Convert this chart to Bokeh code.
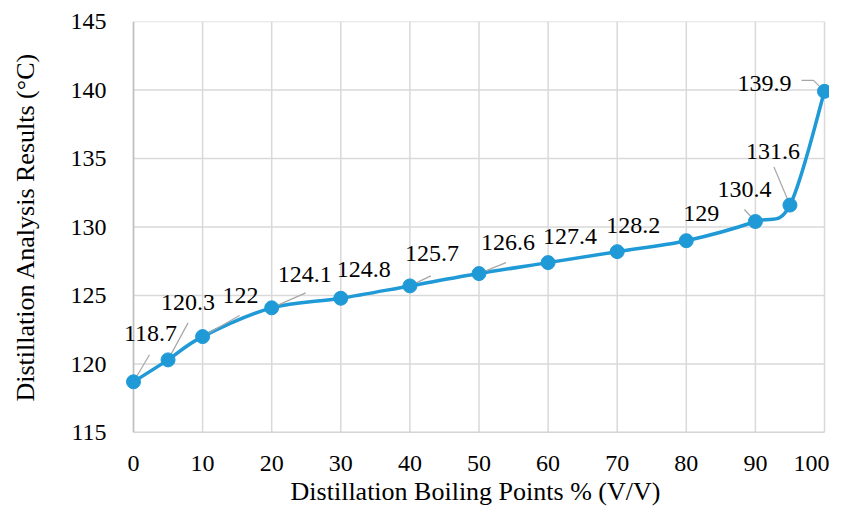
from bokeh.plotting import figure
from bokeh.models import Range1d, ColumnDataSource
from bokeh.embed import file_html
from bokeh.resources import INLINE
from bokeh.core.properties import value

# ---- data ----
boiling_points = [0, 5, 10, 20, 30, 40, 50, 60, 70, 80, 90, 95, 100]
temperatures = [118.7, 120.3, 122, 124.1, 124.8, 125.7, 126.6, 127.4, 128.2, 129, 130.4, 131.6, 139.9]
labels = ["118.7", "120.3", "122", "124.1", "124.8", "125.7", "126.6", "127.4", "128.2", "129", "130.4", "131.6", "139.9"]
x_ticks = [0, 10, 20, 30, 40, 50, 60, 70, 80, 90, 100]
y_ticks = [115, 120, 125, 130, 135, 140, 145]

# ---- label placement (screen pixel offsets from each point; y downward) ----
label_dx = [17, 20, 38, 33, 23, 22, 29, 22, 16, 15, -11, -17, -60]
label_dy = [-48, -57, -41, -33, -29, -32, -31, -26, -26, -27, -32, -54, -8]
# leader lines: list of pixel offset paths (empty = none)
leaders = [
    [(0, 0), (16, -27)],
    [(0, 0), (20, -37)],
    [(0, 0), (37, -21)],
    [(0, 0), (34, -15)],
    [],
    [(0, 0), (21, -10)],
    [(0, 0), (27, -11)],
    [],
    [],
    [],
    [(0, 0), (-11, -12)],
    [(0, 0), (-16, -38)],
    [(0, 0), (-11, -11), (-23, -11)],
]

FONT = "Liberation Serif"
W, H = 829, 508
# plot area (where 0..100 and 115..145 map), in figure pixels
AX_L, AX_R, AX_T, AX_B = 133, 824, 21, 432
PAD_L, PAD_R = 12, 5          # extra room so edge markers/labels are not clipped
XMIN, XMAX, YMIN, YMAX = 0, 100, 115, 145
sx = (AX_R - AX_L) / (XMAX - XMIN)
sy = (AX_B - AX_T) / (YMAX - YMIN)
BLUE = "#1f9ad6"
GRID = "#d9d9d9"
AXIS = "#bfbfbf"

p = figure(width=W, height=H, output_backend="svg", toolbar_location=None,
           x_range=Range1d(XMIN - PAD_L / sx, XMAX + PAD_R / sx),
           y_range=Range1d(YMIN, YMAX),
           min_border_left=AX_L - PAD_L, min_border_right=W - AX_R - PAD_R,
           min_border_top=AX_T, min_border_bottom=H - AX_B)
p.outline_line_color = None
p.background_fill_color = "white"
p.border_fill_color = "white"
p.grid.visible = False

for ax in (p.xaxis[0], p.yaxis[0]):
    ax.axis_line_color = None
    ax.major_tick_line_color = None
    ax.minor_tick_line_color = None
    ax.major_tick_out = 0
    ax.major_tick_in = 0
    ax.major_label_text_font = FONT
    ax.major_label_text_font_size = "24px"
    ax.major_label_text_color = "#000000"
    ax.axis_label_text_font = FONT
    ax.axis_label_text_font_size = "26px"
    ax.axis_label_text_font_style = "normal"
    ax.axis_label_text_color = "#000000"

p.xaxis.ticker = x_ticks
p.yaxis.ticker = y_ticks
p.xaxis.axis_label = "Distillation Boiling Points % (V/V)"
p.yaxis.axis_label = "Distillation Analysis Results (°C)"
p.xaxis.major_label_standoff = 23
p.yaxis.major_label_standoff = 15
p.xaxis.axis_label_standoff = 3
p.yaxis.axis_label_standoff = 28

# ---- grid lines and axis lines ----
p.segment(x0=x_ticks, y0=[YMIN] * len(x_ticks), x1=x_ticks, y1=[YMAX] * len(x_ticks),
          line_color=GRID, line_width=1.5)
p.segment(x0=[XMIN] * len(y_ticks), y0=y_ticks, x1=[XMAX] * len(y_ticks), y1=y_ticks,
          line_color=GRID, line_width=1.5)
p.segment(x0=[XMIN, XMIN], y0=[YMIN, YMIN], x1=[XMIN, XMAX], y1=[YMAX, YMIN],
          line_color=AXIS, line_width=1.5)

# ---- smoothed line (Catmull-Rom style Bezier, like spreadsheet smoothing) ----
n = len(boiling_points)
x0s, y0s, x1s, y1s, cx0s, cy0s, cx1s, cy1s = [], [], [], [], [], [], [], []
for i in range(n - 1):
    xp, yp = boiling_points[max(i - 1, 0)], temperatures[max(i - 1, 0)]
    xa, ya = boiling_points[i], temperatures[i]
    xb, yb = boiling_points[i + 1], temperatures[i + 1]
    xn, yn = boiling_points[min(i + 2, n - 1)], temperatures[min(i + 2, n - 1)]
    x0s.append(xa); y0s.append(ya); x1s.append(xb); y1s.append(yb)
    cx0s.append(xa + (xb - xp) / 6); cy0s.append(ya + (yb - yp) / 6)
    cx1s.append(xb - (xn - xa) / 6); cy1s.append(yb - (yn - ya) / 6)
p.bezier(x0=x0s, y0=y0s, x1=x1s, y1=y1s, cx0=cx0s, cy0=cy0s, cx1=cx1s, cy1=cy1s,
         line_color=BLUE, line_width=3.5)

# ---- leader lines ----
lx, ly = [], []
for i, path in enumerate(leaders):
    if not path:
        continue
    lx.append([boiling_points[i] + dx / sx for dx, dy in path])
    ly.append([temperatures[i] - dy / sy for dx, dy in path])
p.multi_line(xs=lx, ys=ly, line_color="#a6a6a6", line_width=1.2)

# ---- markers ----
p.scatter(boiling_points, temperatures, size=14, fill_color=BLUE, line_color=BLUE)

# ---- data labels ----
src = ColumnDataSource(dict(x=boiling_points, y=temperatures, t=labels, dx=label_dx, dy=label_dy))
p.text(x="x", y="y", text="t", x_offset="dx", y_offset="dy", source=src,
       text_font=value(FONT), text_font_size="24px", text_color="#000000",
       text_align="center", text_baseline="middle")

open("out.html", "w").write(file_html(p, INLINE))
